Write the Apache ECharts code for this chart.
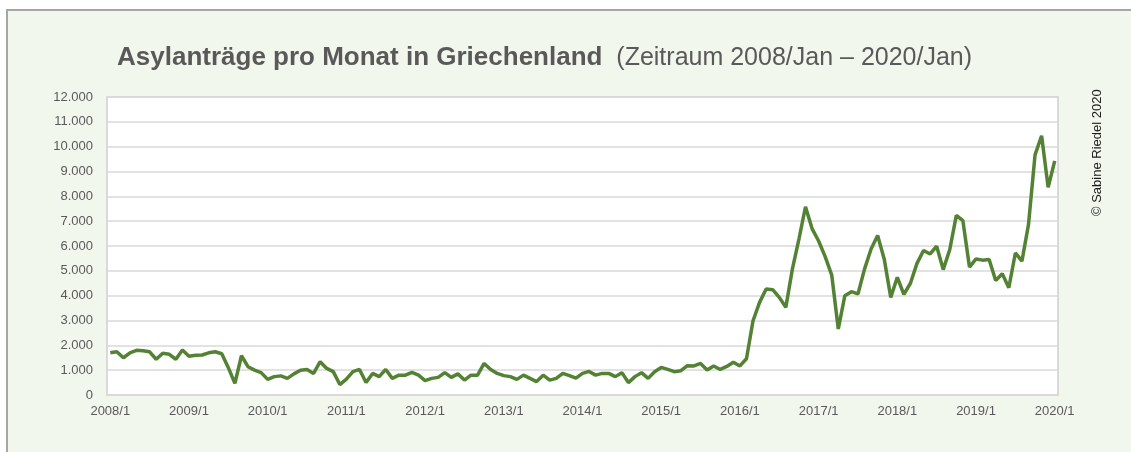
<!DOCTYPE html>
<html>
<head>
<meta charset="utf-8">
<script src="https://cdn.jsdelivr.net/npm/echarts@6/dist/echarts.min.js"></script>
<style>
  html, body { margin: 0; padding: 0; background: #fff; }
  #chart { width: 1131px; height: 452px; }
</style>
</head>
<body>
<div id="chart"></div>
<script>
// Asylanträge pro Monat, je Jahr (Jan..Dez)
var v2008 = [1700, 1740, 1500, 1700, 1800, 1780, 1740, 1440, 1680, 1640, 1440, 1810];
var v2009 = [1560, 1600, 1610, 1700, 1740, 1660, 1100, 470, 1580, 1140, 1000, 900];
var v2010 = [630, 740, 770, 670, 850, 1000, 1030, 870, 1340, 1070, 940, 420];
var v2011 = [640, 940, 1030, 500, 870, 740, 1030, 670, 800, 800, 910, 800];
var v2012 = [580, 670, 710, 900, 710, 850, 600, 800, 800, 1270, 1030, 870];
var v2013 = [780, 740, 630, 800, 670, 540, 800, 600, 670, 870, 780, 680];
var v2014 = [870, 950, 800, 870, 870, 740, 900, 500, 740, 900, 670, 940];
var v2015 = [1110, 1030, 940, 980, 1180, 1170, 1270, 1010, 1170, 1030, 1150, 1320];
var v2016 = [1170, 1460, 2990, 3730, 4270, 4240, 3930, 3530, 5070, 6280, 7580, 6700];
var v2017 = [6200, 5570, 4830, 2660, 4000, 4160, 4070, 5070, 5880, 6420, 5480, 3930];
var v2018 = [4740, 4050, 4500, 5300, 5820, 5680, 5990, 5050, 5860, 7230, 7020, 5150];
var v2019 = [5480, 5430, 5460, 4610, 4880, 4320, 5720, 5390, 6860, 9670, 10440, 8360];
var v2020 = [9430];

var years = [2008, 2009, 2010, 2011, 2012, 2013, 2014, 2015, 2016, 2017, 2018, 2019, 2020];
var yearValues = [v2008, v2009, v2010, v2011, v2012, v2013, v2014, v2015, v2016, v2017, v2018, v2019, v2020];

var months = [];
var werte = [];
years.forEach(function (y, k) {
    yearValues[k].forEach(function (v, m) {
        months.push(y + '/' + (m + 1));
        werte.push(v);
    });
});

var chart = echarts.init(document.getElementById('chart'));

var option = {
    backgroundColor: '#ffffff',
    animation: false,
    textStyle: { fontFamily: 'Liberation Sans, Arial, sans-serif' },
    graphic: [
        {
            type: 'rect',
            shape: { x: 7, y: 10, width: 1200, height: 500 },
            style: { fill: '#f2f7ee', stroke: '#a6a6a6', lineWidth: 2 },
            z: -10
        },
        {
            type: 'text',
            x: 1097,
            y: 216,
            rotation: Math.PI / 2,
            style: {
                text: '© Sabine Riedel 2020',
                font: '13px Liberation Sans',
                fill: '#1a1a1a',
                align: 'left',
                verticalAlign: 'middle'
            }
        }
    ],
    title: {
        left: 112,
        top: 40,
        text: '{b|Asylanträge pro Monat in Griechenland}{n|  (Zeitraum 2008/Jan – 2020/Jan)}',
        textStyle: {
            rich: {
                b: { fontSize: 26, fontWeight: 'bold', color: '#595959', fontFamily: 'Liberation Sans' },
                n: { fontSize: 25, fontWeight: 'normal', color: '#595959', fontFamily: 'Liberation Sans' }
            }
        }
    },
    grid: {
        left: 107,
        right: 73,
        top: 97,
        bottom: 57,
        show: true,
        backgroundColor: '#ffffff',
        borderColor: '#d0d0d0',
        borderWidth: 1.5
    },
    xAxis: {
        type: 'category',
        data: months,
        boundaryGap: true,
        axisLine: { lineStyle: { color: '#d9d9d9', width: 1.5 } },
        axisTick: { show: false },
        axisLabel: {
            interval: function (i) { return i % 12 === 0; },
            color: '#595959',
            fontSize: 13,
            margin: 10
        }
    },
    yAxis: {
        type: 'value',
        min: 0,
        max: 12000,
        interval: 1000,
        axisLine: { show: false },
        axisTick: { show: false },
        axisLabel: {
            color: '#595959',
            fontSize: 13,
            margin: 14,
            formatter: function (v) {
                return String(v).replace(/\B(?=(\d{3})+(?!\d))/g, '.');
            }
        },
        splitLine: { lineStyle: { color: '#d9d9d9', width: 1.5 } }
    },
    series: [
        {
            name: 'Asylanträge',
            type: 'line',
            data: werte,
            symbol: 'none',
            lineStyle: { color: '#548235', width: 3.5 }
        }
    ]
};

chart.setOption(option);
</script>
</body>
</html>
